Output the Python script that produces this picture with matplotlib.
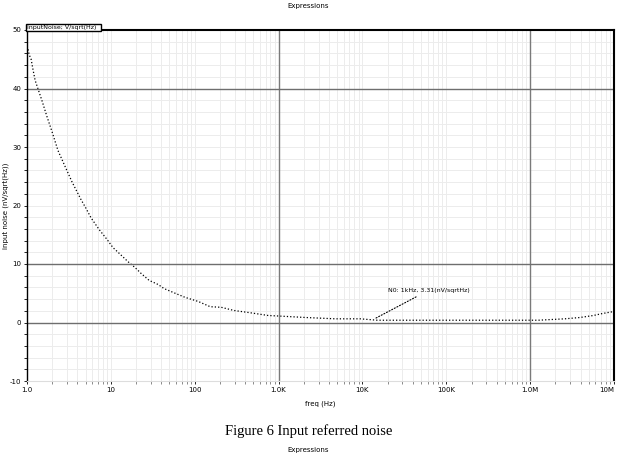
import numpy as np
import matplotlib
matplotlib.use('Agg')
import matplotlib.pyplot as plt
from matplotlib.ticker import FixedLocator, NullFormatter

# values (freq in Hz, noise in nV/sqrt(Hz))
freq = [1.03, 1.06, 1.12, 1.18, 1.25, 1.51, 1.73, 1.99, 2.34, 2.84, 3.45, 4.41,
        5.06, 5.8, 7.24, 9.0, 10.6, 12.2, 16.0, 19.4, 22.9, 28.6, 36.6, 43.1,
        58.4, 76.7, 110, 153, 207, 295, 443, 750, 1260, 2130, 4750, 9400,
        15000, 49000, 254000, 1.25e6, 2.6e6, 3.9e6, 5.7e6, 7.3e6, 1.0e7]
noise = [46.7, 45.8, 45.0, 43.2, 41.4, 37.9, 35.2, 32.6, 29.4, 26.7, 24.0, 21.0,
         19.5, 17.9, 15.9, 14.2, 12.8, 12.0, 10.4, 9.4, 8.4, 7.2, 6.5, 5.8,
         5.0, 4.3, 3.6, 2.7, 2.6, 2.05, 1.7, 1.2, 1.03, 0.85, 0.63, 0.63,
         0.39, 0.39, 0.39, 0.39, 0.63, 0.85, 1.2, 1.54, 1.88]

xticks = [1, 10, 100, 1e3, 1e4, 1e5, 1e6, 1e7]
xticklabels = ['1.0', '10', '100', '1.0K', '10K', '100K', '1.0M', '10M']
yticks = [-10, 0, 10, 20, 30, 40, 50]
yticklabels = ['-10', '0', '10', '20', '30', '40', '50']
dark_x = [1e3, 1e6]
dark_y = [0, 10, 40]

fig = plt.figure(figsize=(6.17, 4.62), dpi=100)
ax = fig.add_axes([27/617, 1-381/462, (614-27)/617, (381-30)/462])

ax.plot(freq, noise, color='black', linestyle=':', linewidth=0.9)

ax.set_xscale('log')
ax.set_xlim(1, 1e7)
ax.set_ylim(-10, 50)

minor_x = [m * 10**d for d in range(0, 7) for m in range(2, 10)]
ax.xaxis.set_major_locator(FixedLocator(xticks))
ax.xaxis.set_minor_locator(FixedLocator(minor_x))
ax.xaxis.set_minor_formatter(NullFormatter())
ax.set_xticklabels(xticklabels)
ax.set_yticks(yticks)
ax.set_yticklabels(yticklabels)
ax.yaxis.set_minor_locator(FixedLocator(np.arange(-10, 51, 2)))

ax.grid(which='both', color='#ececec', linewidth=0.7)
for x in dark_x:
    ax.axvline(x, color='#7a7a7a', linewidth=1.0)
for y in dark_y:
    ax.axhline(y, color='#6e6e6e', linewidth=1.0)
ax.set_axisbelow(True)

ax.tick_params(which='both', labelsize=5, length=2, width=0.6, pad=2)
ax.tick_params(axis='x', which='minor', length=2, color='#777777')
ax.get_xticklabels()[-1].set_horizontalalignment('right')

for s in ['top', 'right']:
    ax.spines[s].set_linewidth(1.5)
ax.spines['left'].set_linewidth(1.0)
ax.spines['bottom'].set_color('#dddddd')

ax.set_xlabel('freq (Hz)', fontsize=5, labelpad=6)
ax.set_ylabel('input noise (nV/sqrt(Hz))', fontsize=5)
ax.yaxis.set_label_coords(-0.03, 0.5)

# legend tab over the top-left corner
ax.text(0.0, 1.0, 'inputNoise; V/sqrt(Hz)  ', transform=ax.transAxes, fontsize=4.5,
        va='bottom', ha='left',
        bbox=dict(boxstyle='square,pad=0.15', facecolor='white', edgecolor='black', linewidth=1.0))

# marker annotation
ax.annotate('N0: 1kHz, 3.31(nV/sqrtHz)', xy=(1.3e4, 0.4), xytext=(2.0e4, 5.5),
            fontsize=4.5, va='center',
            arrowprops=dict(arrowstyle='-', linestyle=':', color='black', linewidth=0.8))

fig.text(0.5, 1-6/462, 'Expressions', fontsize=5, ha='center', va='center')
fig.text(0.5, 1-431/462, 'Figure 6 Input referred noise', fontsize=10.5,
         family='Liberation Serif', ha='center', va='center')
fig.text(0.5, 1-450/462, 'Expressions', fontsize=5, ha='center', va='center')

fig.savefig('out.png', dpi=100)
